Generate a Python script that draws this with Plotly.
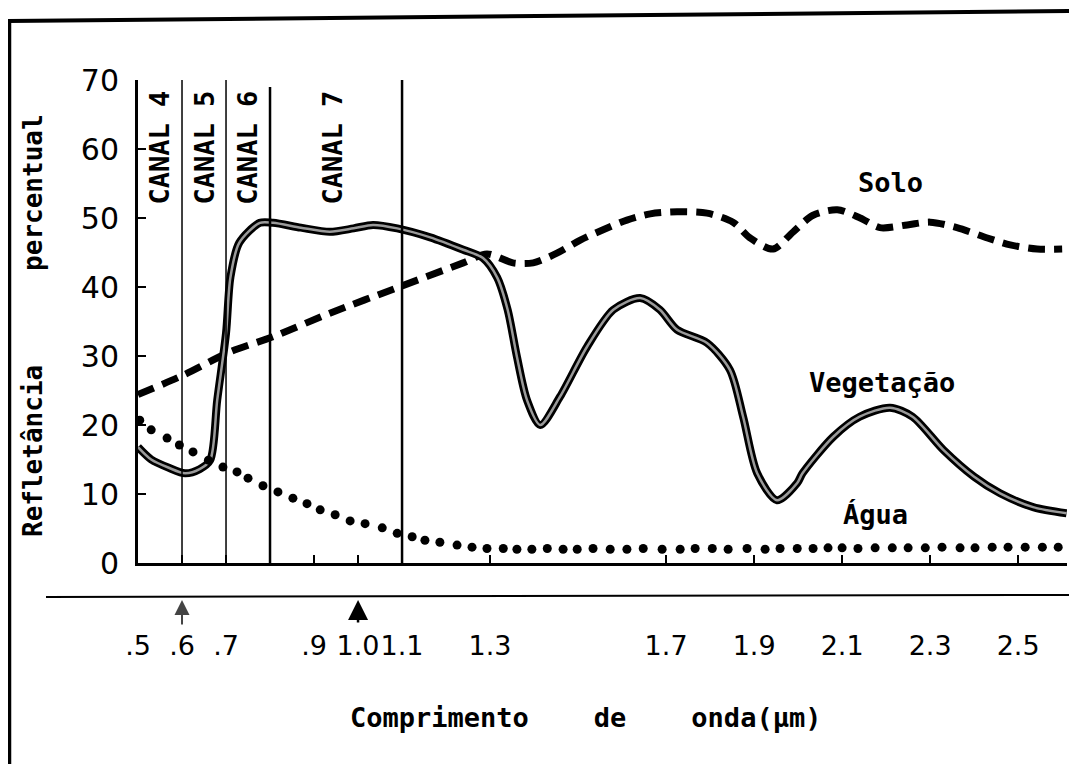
import plotly.graph_objects as go

# ---------------- data ----------------
veg_x = [0.50, 0.53, 0.57, 0.607, 0.64, 0.664, 0.68, 0.70, 0.71, 0.73, 0.777, 0.807,
         0.87, 0.936, 0.99, 1.034, 1.089, 1.164, 1.239, 1.284, 1.316, 1.34, 1.361,
         1.384, 1.414, 1.459, 1.52, 1.58, 1.641, 1.686, 1.725, 1.793, 1.845, 1.875,
         1.907, 1.952, 1.998, 2.01, 2.08, 2.14, 2.209, 2.26, 2.33, 2.40, 2.459, 2.534, 2.61]
veg_y = [16.8, 15.0, 13.8, 13.0, 13.6, 14.9, 23.6, 33.3, 41.4, 46.4, 49.3, 49.3,
         48.6, 48.0, 48.5, 49.0, 48.5, 47.2, 45.4, 44.2, 41.4, 36.7, 29.9,
         23.6, 20.0, 24.1, 31.3, 36.7, 38.4, 36.7, 33.8, 31.9, 28.0, 21.2,
         13.0, 9.1, 11.6, 13.0, 18.3, 21.2, 22.5, 21.2, 16.4, 12.5, 10.1, 8.1, 7.2]

solo_x = [0.50, 0.602, 0.709, 0.807, 0.936, 1.089, 1.239, 1.293, 1.352, 1.398, 1.452,
          1.505, 1.557, 1.611, 1.664, 1.725, 1.793, 1.852, 1.891, 1.943, 1.989, 2.034,
          2.089, 2.141, 2.186, 2.248, 2.30, 2.361, 2.43, 2.482, 2.543, 2.60]
solo_y = [24.4, 27.2, 30.6, 32.8, 36.2, 39.9, 43.5, 44.8, 43.5, 43.5, 44.9,
          46.8, 48.3, 49.7, 50.6, 50.9, 50.7, 49.4, 47.1, 45.5, 48.0, 50.4,
          51.2, 50.0, 48.6, 49.0, 49.4, 48.6, 47.1, 46.1, 45.5, 45.5]

agua_x = [0.504, 0.53, 0.566, 0.594, 0.625, 0.66, 0.693, 0.725, 0.75, 0.784, 0.818,
          0.852, 0.884, 0.914, 0.948, 0.982, 1.016, 1.055, 1.089, 1.123, 1.152, 1.186,
          1.225, 1.259, 1.293, 1.330, 1.361, 1.395, 1.430, 1.466, 1.498, 1.534, 1.573,
          1.611, 1.648, 1.691, 1.732, 1.766, 1.805, 1.841, 1.884, 1.925, 1.959, 1.998,
          2.034, 2.068, 2.100, 2.136, 2.175, 2.214, 2.250, 2.289, 2.327, 2.368, 2.402,
          2.441, 2.477, 2.516, 2.555, 2.591]
agua_y = [20.7, 19.3, 18.1, 17.1, 16.1, 14.9, 13.9, 13.2, 12.3, 11.2, 10.3,
          9.4, 8.6, 7.7, 7.0, 6.1, 5.7, 5.1, 4.3, 3.8, 3.3, 3.0,
          2.6, 2.3, 2.1, 2.1, 2.0, 2.0, 2.1, 2.0, 2.0, 2.1, 2.0,
          2.0, 2.1, 2.0, 2.0, 2.1, 2.1, 2.0, 2.1, 2.0, 2.1, 2.1,
          2.1, 2.2, 2.2, 2.1, 2.2, 2.2, 2.2, 2.2, 2.3, 2.2, 2.2,
          2.3, 2.3, 2.3, 2.3, 2.3]

canal_bounds = [0.6, 0.7, 0.8, 1.1]
canal_tops = [70, 70, 69, 71]
canal_widths = [1.5, 1.5, 2.5, 2.5]
canal_labels = ["CANAL 4", "CANAL 5", "CANAL 6", "CANAL 7"]
canal_label_x = [0.55, 0.652, 0.75, 0.943]

x_tickvals = [0.5, 0.6, 0.7, 0.9, 1.0, 1.1, 1.3, 1.7, 1.9, 2.1, 2.3, 2.5]
x_ticktext = [".5", ".6", ".7", ".9", "1.0", "1.1", "1.3", "1.7", "1.9", "2.1", "2.3", "2.5"]
y_tickvals = [0, 10, 20, 30, 40, 50, 60, 70]

FONT = "DejaVu Sans Mono"
FONT2 = "DejaVu Sans"

# ---------------- geometry (pixels; page body has an 8px margin) ----------------
OFF = 8
W, H = 1069, 756
ML, MR, MT, MB = 130, 10, 72, 201
PW, PH = W - ML - MR, H - MT - MB


def px(xp):  # reference-image x pixel -> paper fraction
    return (xp - OFF - ML) / PW


def py(yp):  # reference-image y pixel -> paper fraction
    return (H - MB - (yp - OFF)) / PH


fig = go.Figure()

# Solo (dashed)
fig.add_trace(go.Scatter(x=solo_x, y=solo_y, mode="lines", cliponaxis=False,
                         line=dict(color="black", width=7, dash="17px,9px", shape="spline", smoothing=0.8),
                         hoverinfo="skip", showlegend=False))
# Vegetação (double line)
fig.add_trace(go.Scatter(x=veg_x, y=veg_y, mode="lines", cliponaxis=False,
                         line=dict(color="black", width=8, shape="spline", smoothing=0.8),
                         hoverinfo="skip", showlegend=False))
fig.add_trace(go.Scatter(x=veg_x, y=veg_y, mode="lines", cliponaxis=False,
                         line=dict(color="#9a9a9a", width=2.5, shape="spline", smoothing=0.8),
                         hoverinfo="skip", showlegend=False))
# Água (dots)
fig.add_trace(go.Scatter(x=agua_x, y=agua_y, mode="markers", cliponaxis=False,
                         marker=dict(color="black", size=9, line=dict(width=0)),
                         hoverinfo="skip", showlegend=False))

shapes = []
for xb, top, w in zip(canal_bounds, canal_tops, canal_widths):
    shapes.append(dict(type="line", xref="x", yref="y", x0=xb, x1=xb, y0=0, y1=top,
                       line=dict(color="black", width=w)))
# second horizontal line below axis
shapes.append(dict(type="line", xref="paper", yref="paper", x0=px(46), x1=px(1080),
                   y0=py(597), y1=py(595), line=dict(color="black", width=2)))
# frame
shapes.append(dict(type="line", xref="paper", yref="paper", x0=px(9.5), x1=px(9.5),
                   y0=py(19), y1=py(770), line=dict(color="black", width=3.5)))
shapes.append(dict(type="line", xref="paper", yref="paper", x0=px(8), x1=px(1080),
                   y0=py(21), y1=py(11), line=dict(color="black", width=4)))
shapes.append(dict(type="line", xref="paper", yref="paper", x0=px(1075), x1=px(1075),
                   y0=py(11), y1=py(170), line=dict(color="black", width=2)))

annotations = []
for lab, lx in zip(canal_labels, canal_label_x):
    annotations.append(dict(x=lx, y=60.2, xref="x", yref="y", text=lab, showarrow=False,
                            xanchor="center", yanchor="middle", textangle=-90,
                            font=dict(family=FONT, size=27, color="black", weight="bold")))

annotations += [
    dict(x=2.211, y=55.2, xref="x", yref="y", text="Solo", showarrow=False,
         xanchor="center", yanchor="middle",
         font=dict(family=FONT, size=27, color="black", weight="bold")),
    dict(x=2.19, y=26.2, xref="x", yref="y", text="Vegetação", showarrow=False,
         xanchor="center", yanchor="middle",
         font=dict(family=FONT, size=27, color="black", weight="bold")),
    dict(x=2.175, y=7.0, xref="x", yref="y", text="Água", showarrow=False,
         xanchor="center", yanchor="middle",
         font=dict(family=FONT, size=27, color="black", weight="bold")),
    dict(x=px(33), y=py(326), xref="paper", yref="paper",
         text="Refletância\u00a0\u00a0\u00a0\u00a0\u00a0\u00a0percentual", showarrow=False,
         xanchor="center", yanchor="middle", textangle=-90,
         font=dict(family=FONT, size=26, color="black", weight="bold")),
    dict(x=px(585), y=py(717), xref="paper", yref="paper",
         text="Comprimento\u00a0\u00a0\u00a0\u00a0de\u00a0\u00a0\u00a0\u00a0onda(µm)", showarrow=False,
         xanchor="center", yanchor="middle",
         font=dict(family=FONT, size=27, color="black", weight="bold")),
    # arrows under the lower line
    dict(x=0.6, y=py(600), xref="x", yref="paper", text="", showarrow=True,
         ax=0, ay=26, arrowhead=2, arrowsize=1.5, arrowwidth=2, arrowcolor="#444444"),
    dict(x=1.0, y=py(600), xref="x", yref="paper", text="", showarrow=True,
         ax=0, ay=24, arrowhead=2, arrowsize=1.6, arrowwidth=2.5, arrowcolor="black"),
]

fig.update_layout(
    width=W, height=H,
    margin=dict(l=ML, r=MR, t=MT, b=MB, pad=0, autoexpand=False),
    paper_bgcolor="white", plot_bgcolor="white",
    shapes=shapes, annotations=annotations,
    showlegend=False,
    xaxis=dict(range=[0.5, 2.611], showgrid=False, zeroline=False, automargin=False,
               showline=True, linecolor="black", linewidth=3,
               tickmode="array", tickvals=x_tickvals, ticktext=x_ticktext,
               ticks="inside", ticklen=8, tickwidth=2, tickcolor="black",
               tickangle=0, ticklabelstandoff=57,
               tickfont=dict(family=FONT2, size=27, color="black")),
    yaxis=dict(range=[0, 70], showgrid=False, zeroline=False, automargin=False,
               showline=True, linecolor="black", linewidth=3,
               tickmode="array", tickvals=y_tickvals,
               ticks="inside", ticklen=8, tickwidth=2, tickcolor="black",
               ticklabelstandoff=10,
               tickfont=dict(family=FONT2, size=30, color="black")),
)

fig.write_html("out.html")
